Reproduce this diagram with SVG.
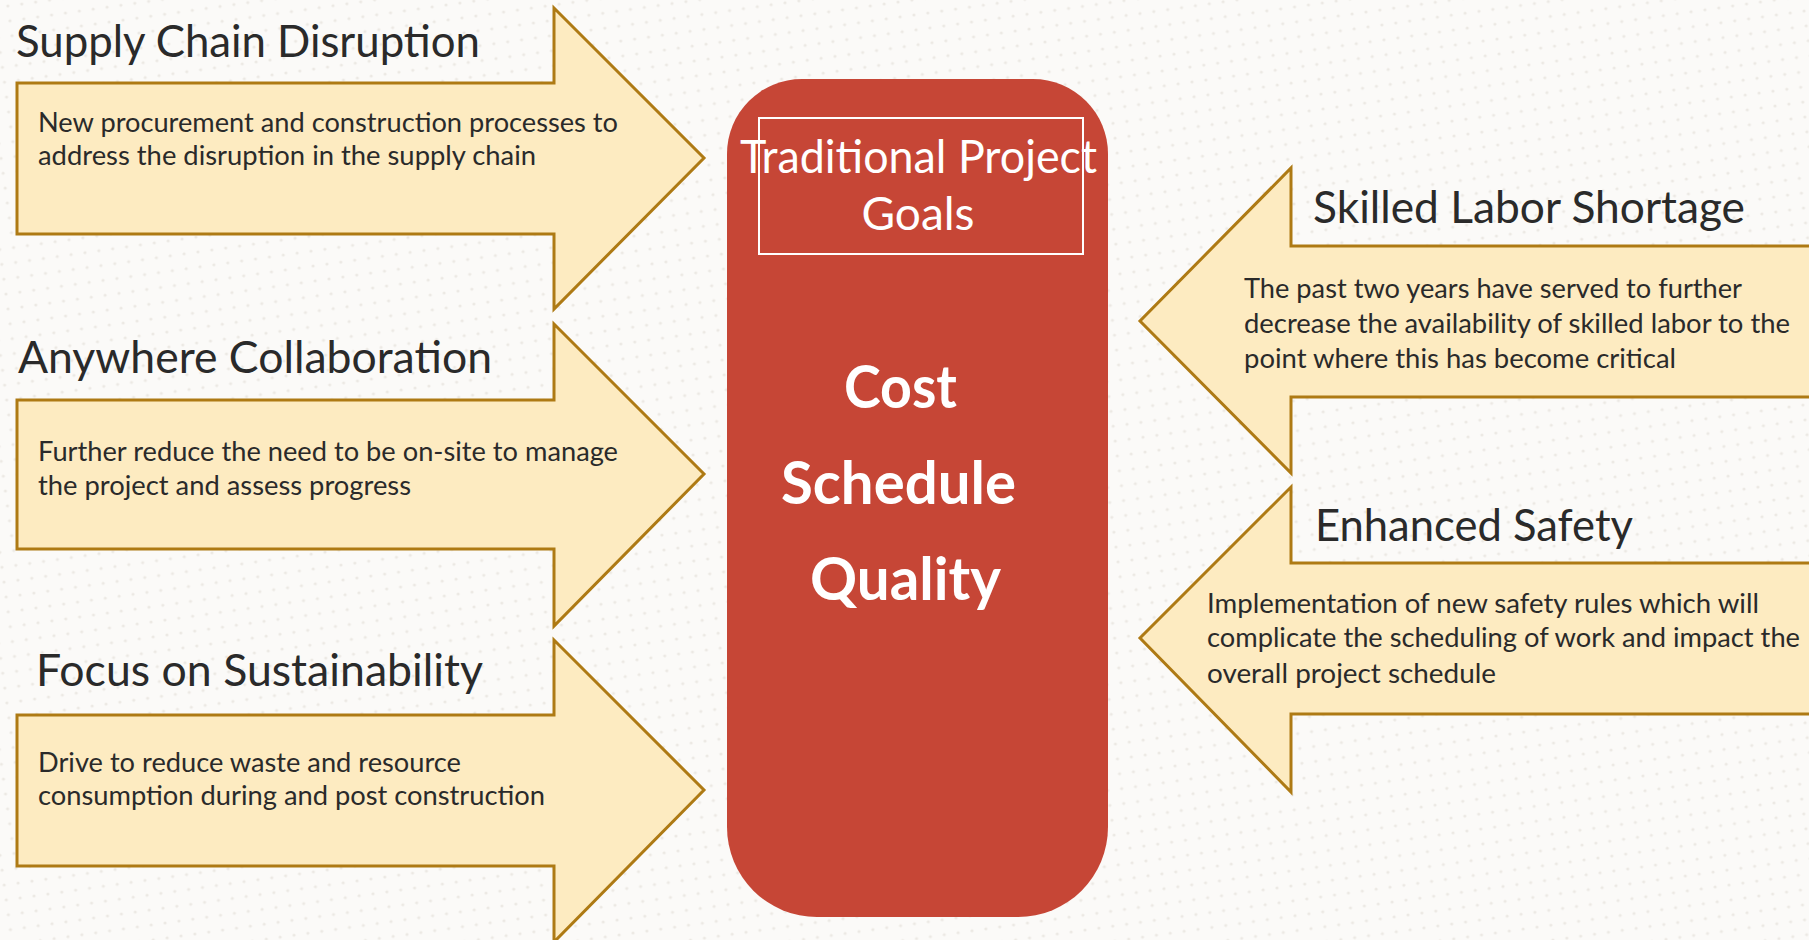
<svg xmlns="http://www.w3.org/2000/svg" width="1809" height="940" viewBox="0 0 1809 940">
<style>
.arrow{fill:#FDEBC1;stroke:#AE7A14;stroke-width:3;stroke-linejoin:miter}
.title{font-family:Lato,"Open Sans","Liberation Sans",sans-serif;font-size:44px;fill:#2A2A2A}
.desc{font-family:Lato,"Open Sans","Liberation Sans",sans-serif;font-size:27px;fill:#2A2A2A}
.wt{font-family:Lato,"Open Sans","Liberation Sans",sans-serif;font-size:46px;fill:#FFFFFF}
.wb{font-family:Lato,"Open Sans","Liberation Sans",sans-serif;font-size:60px;font-weight:700;fill:#FFFFFF}
</style>
<defs>
<pattern id="dots" width="14" height="15" patternUnits="userSpaceOnUse" patternTransform="rotate(-8)">
<circle cx="7" cy="7" r="1.6" fill="#ECE9E4"/>
</pattern>
</defs>
<rect width="1809" height="940" fill="#FBFAF8"/>
<rect width="1809" height="940" fill="url(#dots)"/>

<g id="supply-chain">
<path class="arrow" d="M17,83 H554 V8 L704,158 L554,309 V234 H17 Z"/>
<text class="title" x="16" y="57" textLength="464" lengthAdjust="spacingAndGlyphs">Supply Chain Disruption</text>
<text class="desc" x="38" y="132" textLength="580" lengthAdjust="spacingAndGlyphs">New procurement and construction processes to</text>
<text class="desc" x="38" y="165" textLength="498" lengthAdjust="spacingAndGlyphs">address the disruption in the supply chain</text>
</g>

<g id="anywhere-collaboration">
<path class="arrow" d="M17,400 H554 V324 L704,474 L554,626 V549 H17 Z"/>
<text class="title" x="18" y="373" textLength="474" lengthAdjust="spacingAndGlyphs">Anywhere Collaboration</text>
<text class="desc" x="38" y="461" textLength="580" lengthAdjust="spacingAndGlyphs">Further reduce the need to be on-site to manage</text>
<text class="desc" x="38" y="495" textLength="373" lengthAdjust="spacingAndGlyphs">the project and assess progress</text>
</g>

<g id="sustainability">
<path class="arrow" d="M17,715 H554 V640 L704,790 L554,942 V866 H17 Z"/>
<text class="title" x="36" y="686" textLength="447" lengthAdjust="spacingAndGlyphs">Focus on Sustainability</text>
<text class="desc" x="38" y="772" textLength="423" lengthAdjust="spacingAndGlyphs">Drive to reduce waste and resource</text>
<text class="desc" x="38" y="805" textLength="507" lengthAdjust="spacingAndGlyphs">consumption during and post construction</text>
</g>

<g id="traditional-goals">
<path d="M802,79 H1033 A75,75 0 0 1 1108,154 V827 A90,90 0 0 1 1018,917 H817 A90,90 0 0 1 727,827 V154 A75,75 0 0 1 802,79 Z" fill="#C64636"/>
<rect x="759" y="118" width="324" height="136" fill="none" stroke="#FFFFFF" stroke-width="2"/>
<text class="wt" x="740" y="173" textLength="357" lengthAdjust="spacingAndGlyphs">Traditional Project</text>
<text class="wt" x="918" y="230" text-anchor="middle">Goals</text>
<text class="wb" x="844" y="408" textLength="113" lengthAdjust="spacingAndGlyphs">Cost</text>
<text class="wb" x="781" y="504" textLength="235" lengthAdjust="spacingAndGlyphs">Schedule</text>
<text class="wb" x="810" y="600" textLength="191" lengthAdjust="spacingAndGlyphs">Quality</text>
</g>

<g id="skilled-labor">
<path class="arrow" d="M1820,246 H1291 V168 L1140,321 L1291,473 V397 H1820 Z"/>
<text class="title" x="1313" y="223" textLength="432" lengthAdjust="spacingAndGlyphs">Skilled Labor Shortage</text>
<text class="desc" x="1244" y="298" textLength="498" lengthAdjust="spacingAndGlyphs">The past two years have served to further</text>
<text class="desc" x="1244" y="333" textLength="546" lengthAdjust="spacingAndGlyphs">decrease the availability of skilled labor to the</text>
<text class="desc" x="1244" y="368" textLength="432" lengthAdjust="spacingAndGlyphs">point where this has become critical</text>
</g>

<g id="enhanced-safety">
<path class="arrow" d="M1820,563 H1291 V487 L1140,638 L1291,792 V714 H1820 Z"/>
<text class="title" x="1315" y="541" textLength="318" lengthAdjust="spacingAndGlyphs">Enhanced Safety</text>
<text class="desc" x="1207" y="613" textLength="552" lengthAdjust="spacingAndGlyphs">Implementation of new safety rules which will</text>
<text class="desc" x="1207" y="647" textLength="593" lengthAdjust="spacingAndGlyphs">complicate the scheduling of work and impact the</text>
<text class="desc" x="1207" y="683" textLength="289" lengthAdjust="spacingAndGlyphs">overall project schedule</text>
</g>

<g id="connectors"></g>
</svg>
